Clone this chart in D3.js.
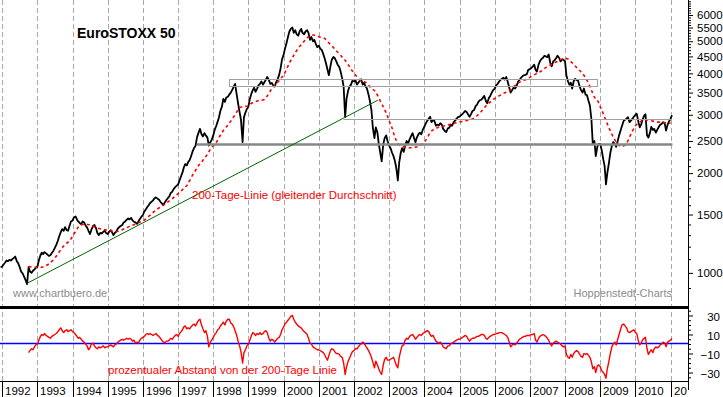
<!DOCTYPE html>
<html>
<head>
<meta charset="utf-8">
<script src="https://cdn.jsdelivr.net/npm/d3@7"></script>
<style>
  body { margin: 0; background: #fff; }
  svg { display: block; font-family: "Liberation Sans", Arial, sans-serif; }
</style>
</head>
<body>
<div id="chart"></div>
<script>
// EuroSTOXX 50, half-monthly closes (1st and 15th), starting 15 Dec 1991
const price = [
  1040,
  1045, 1060, 1075, 1090, 1085, 1095, 1090, 1100, 1110, 1120, 1085, 1070, 1040, 1010, 995, 975, 950, 925, 1040, 1010, 1000, 1015, 1025, 1035,
  1045, 1090, 1130, 1150, 1140, 1155, 1145, 1135, 1125, 1130, 1150, 1165, 1190, 1215, 1250, 1290, 1330, 1355, 1340, 1375, 1345, 1340, 1390, 1430,
  1440, 1470, 1480, 1450, 1430, 1415, 1400, 1430, 1420, 1390, 1370, 1340, 1310, 1350, 1385, 1395, 1365, 1320, 1300, 1320, 1315, 1330, 1340, 1320,
  1310, 1330, 1345, 1325, 1300, 1320, 1335, 1360, 1375, 1385, 1395, 1420, 1430, 1445, 1460, 1450, 1465, 1440, 1425, 1420, 1405, 1430, 1455, 1475,
  1495, 1530, 1555, 1580, 1600, 1625, 1640, 1655, 1680, 1690, 1675, 1665, 1640, 1620, 1605, 1630, 1660, 1680, 1700, 1740, 1760, 1790, 1815, 1830,
  1850, 1900, 1960, 2010, 2080, 2130, 2110, 2160, 2190, 2250, 2330, 2380, 2420, 2560, 2650, 2720, 2620, 2580, 2640, 2600, 2560, 2420, 2480, 2520,
  2600, 2700, 2780, 2860, 2950, 3080, 3180, 3350, 3280, 3380, 3400, 3450, 3500, 3560, 3650, 3720, 3450, 3250, 3050, 2900, 2480, 2950, 3050, 3120,
  3180, 3350, 3480, 3560, 3620, 3520, 3600, 3680, 3720, 3780, 3700, 3760, 3830, 3900, 3820, 3720, 3740, 3680, 3650, 3760, 3850, 3950, 4150, 4400,
  4550, 4750, 4950, 5150, 5350, 5450, 5500, 5300, 5400, 5250, 5200, 5350, 5450, 5300, 5250, 5350, 5400, 5300, 5050, 5150, 5000, 5050, 4900, 4800,
  4850, 4750, 4700, 4580, 4450, 4300, 4100, 3950, 4200, 4400, 4480, 4450, 4350, 4250, 4180, 4050, 3850, 3650, 2950, 3350, 3550, 3650, 3700, 3800,
  3780, 3820, 3700, 3750, 3800, 3840, 3700, 3750, 3650, 3600, 3450, 3300, 3100, 2750, 2550, 2750, 2650, 2450, 2300, 2170, 2450, 2550, 2600, 2500,
  2420, 2380, 2300, 2250, 2180, 2080, 1900, 2150, 2300, 2380, 2320, 2420, 2500, 2450, 2530, 2580, 2640, 2560, 2480, 2560, 2620, 2650, 2620, 2700,
  2760, 2820, 2880, 2920, 2960, 2850, 2900, 2870, 2780, 2800, 2790, 2830, 2800, 2720, 2680, 2660, 2730, 2740, 2800, 2780, 2850, 2880, 2920, 2950,
  2960, 2990, 3020, 3050, 3080, 3060, 3000, 2960, 3020, 3080, 3100, 3180, 3220, 3280, 3320, 3330, 3380, 3420, 3300, 3250, 3370, 3420, 3500, 3560,
  3600, 3680, 3720, 3780, 3820, 3850, 3880, 3830, 3900, 3780, 3620, 3500, 3560, 3620, 3600, 3660, 3780, 3820, 3880, 3920, 3950, 3960, 3980, 4100,
  4120, 4150, 4200, 4250, 4100, 4050, 4250, 4350, 4420, 4450, 4520, 4500, 4480, 4560, 4300, 4200, 4350, 4380, 4450, 4520, 4450, 4350, 4400, 4400,
  4350, 3950, 3780, 3700, 3750, 3600, 3800, 3850, 3820, 3800, 3650, 3560, 3500, 3600, 3450, 3440, 3300, 3200, 2900, 2450, 2500, 2250, 2400, 2450,
  2450, 2350, 2200, 2100, 1850, 2000, 2150, 2300, 2420, 2480, 2450, 2400, 2500, 2600, 2700, 2780, 2880, 2900, 2920, 2950, 2850, 2880, 2920, 2960,
  3000, 3020, 2850, 2750, 2800, 2900, 2980, 3010, 2600, 2560, 2650, 2760, 2700, 2720, 2650, 2700, 2760, 2800, 2820, 2850, 2820, 2690, 2800, 2860,
  2920, 2990
];

// 200-Tage-Linie, monthly (1st), starting Oct 1992
const ma200 = [
  1045, 1042, 1040,
  1040, 1040, 1042, 1052, 1065, 1085, 1110, 1140, 1175, 1205, 1230, 1250,
  1290, 1335, 1375, 1398, 1400, 1400, 1396, 1385, 1370, 1362, 1355, 1350,
  1345, 1340, 1334, 1332, 1338, 1350, 1362, 1375, 1388, 1398, 1408, 1422,
  1435, 1455, 1480, 1505, 1535, 1560, 1580, 1600, 1625, 1650, 1675, 1705,
  1735, 1765, 1800, 1835, 1900, 1975, 2040, 2110, 2160, 2220, 2280, 2360,
  2420, 2475, 2560, 2650, 2730, 2790, 2870, 2960, 3060, 3150, 3175, 3180,
  3190, 3250, 3280, 3300, 3320, 3325, 3380, 3480, 3600, 3680, 3760, 3860,
  3950, 4120, 4300, 4460, 4620, 4760, 4880, 5000, 5120, 5190, 5220, 5210,
  5160, 5130, 5100, 5000, 4880, 4790, 4680, 4580, 4470, 4380, 4250, 4120,
  4010, 3900, 3820, 3790, 3760, 3680, 3600, 3550, 3440, 3300, 3170, 3040,
  2880, 2730, 2570, 2460, 2420, 2400, 2390, 2385, 2385, 2395, 2410, 2440,
  2480, 2560, 2650, 2700, 2730, 2755, 2765, 2780, 2795, 2810, 2825, 2840,
  2855, 2865, 2880, 2890, 2905, 2930, 2980, 3040, 3110, 3190, 3250, 3310,
  3360, 3400, 3440, 3480, 3510, 3550, 3600, 3680, 3740, 3780, 3810, 3850,
  3890, 3940, 3980, 4020, 4070, 4140, 4190, 4240, 4290, 4330, 4380, 4420,
  4440, 4420, 4340, 4260, 4160, 4080, 4000, 3880, 3730, 3560, 3390, 3320,
  3170, 3020, 2880, 2740, 2620, 2520, 2450, 2410, 2420, 2460, 2570, 2680,
  2780, 2830, 2870, 2890, 2895, 2885, 2870, 2860, 2850, 2845, 2840, 2835,
  2830
];

// prozentualer Abstand von der 200-Tage-Linie, half-monthly, starting 1 Oct 1992
const distance = [
  -9, -7, -5, -6, -3, -1,
  0, 4, 8, 10, 9, 11, 9, 8, 7, 6, 8, 9, 10, 11, 13, 15, 17, 14, 12, 14, 15, 13, 14, 15,
  13, 12, 10, 8, 6, 7, 5, 3, 2, 0, -2, -6, -4, 0, 1, -2, -4, -5, -3, -4, -3, -2, -4, -3,
  -3, -2, -1, -2, -3, -1, 0, 2, 3, 4, 5, 4, 5, 6, 5, 6, 5, 3, 4, 1, 2, 1, 4, 6,
  7, 8, 10, 11, 10, 11, 10, 9, 10, 11, 9, 8, 6, 4, 2, 1, 3, 3, 4, 6, 5, 7, 9, 10,
  8, 11, 13, 15, 18, 19, 16, 17, 16, 18, 20, 21, 19, 22, 25, 26, 20, 16, 12, 14, 8, -3, 2, 4,
  7, 10, 12, 15, 16, 19, 21, 23, 20, 24, 26, 26, 22, 21, 18, 14, 9, 3, -2, -8, -20, -9, -6, -2,
  0, 4, 9, 12, 11, 9, 11, 10, 12, 10, 11, 13, 14, 12, 6, 3, 5, 4, 2, 4, 6, 7, 10, 15,
  18, 21, 23, 25, 27, 29, 30, 26, 23, 21, 19, 18, 17, 15, 13, 12, 10, 6, 1, 0, -3, -4, -5, -6,
  -6, -7, -8, -9, -11, -14, -17, -12, -7, -5, -6, -8, -10, -10, -11, -13, -14, -20, -32, -24, -18, -15, -11, -8,
  -7, -5, -5, -3, -1, 0, 2, 1, -2, -4, -7, -10, -14, -19, -25, -18, -22, -26, -30, -32, -22, -16, -14, -17,
  -17, -16, -15, -14, -18, -22, -25, -14, -7, -2, -1, 4, 6, 5, 8, 9, 10, 8, 5, 7, 9, 10, 9, 11,
  12, 13, 14, 13, 10, 8, 9, 6, 3, 2, 1, 2, 0, -3, -4, -5, -2, -2, 0, 1, 2, 3, 4, 5,
  5, 6, 7, 8, 9, 8, 5, 3, 5, 6, 6, 7, 8, 8, 9, 10, 10, 9, 6, 5, 7, 8, 9, 10,
  10, 11, 11, 12, 12, 12, 11, 10, 9, 7, 2, -3, -1, 0, -1, 1, 3, 5, 6, 7, 8, 8, 9, 9,
  9, 10, 10, 11, 4, 2, 6, 8, 9, 10, 9, 8, 6, 4, 0, -2, 1, 2, 3, 2, 1, 0, -2, -3,
  -2, -11, -14, -15, -11, -14, -10, -8, -7, -8, -11, -13, -14, -10, -11, -10, -12, -14, -19, -26, -24, -30, -23, -22,
  -24, -28, -30, -32, -36, -26, -18, -10, -3, 0, 2, -1, 5, 10, 16, 20, 21, 19, 17, 13, 12, 13, 14, 15,
  12, 11, 3, -1, 1, 4, 6, 7, -5, -11, -8, -6, -9, -5, -3, -4, -3, -1, 0, 2, 1, -3, 2, 3,
  4, 6
];

const years = d3.range(1992, 2012);
const priceTicks = [1000, 1500, 2000, 2500, 3000, 3500, 4000, 4500, 5000, 5500, 6000];
const priceMinor = d3.range(900, 6700, 100);
const distTicks = [30, 10, -10, -30];
const distMinor = d3.range(-35, 40, 5);

// drawn-in lines
const trend = [{ date: '1992-09-15', v: 930 }, { date: '2002-09-05', v: 3320 }];
const support = { from: '1997-07-15', to: '2011-01-20', v: 2440 };
const level = { from: '2001-09-15', to: '2011-01-15', v: 2910 };
const band = { from: '1998-06-18', to: '2008-12-05', lo: 3670, hi: 3850 };

const W = 723, H = 397;
const axisX = 688;

const halfMonth = k => new Date(Date.UTC(1992, Math.floor(k / 2), ((k % 2) + 2) % 2 ? 15 : 1));
const priceData = price.map((v, i) => ({ date: halfMonth(i - 1), v }));
const distData = distance.map((v, i) => ({ date: halfMonth(i + 18), v }));
const maData = ma200.map((v, i) => ({ date: new Date(Date.UTC(1992, 9 + i, 1)), v }));

const x = d3.scaleUtc()
  .domain([Date.UTC(1992, 0, 1), Date.UTC(2011, 0, 1)])
  .range([2.2, 670.6]);
const y = d3.scaleLog().domain([800, 6660]).range([305, 0]);
const yd = d3.scaleLinear().domain([-38.9, 36.8]).range([381, 309]);
const d = s => new Date(s + 'T00:00:00Z');
const crisp = v => Math.round(v) + 0.5;

const svg = d3.select('#chart').append('svg')
  .attr('width', W).attr('height', H);

const defs = svg.append('defs');
defs.append('clipPath').attr('id', 'clipMain')
  .append('rect').attr('x', 0).attr('y', 0).attr('width', axisX).attr('height', 306);
defs.append('clipPath').attr('id', 'clipLow')
  .append('rect').attr('x', 0).attr('y', 309).attr('width', axisX).attr('height', 72);
defs.append('clipPath').attr('id', 'clipYears')
  .append('rect').attr('x', 0).attr('y', 381).attr('width', axisX - 1).attr('height', 16);

// year grid (dashed)
svg.append('g').selectAll('line')
  .data(years)
  .enter().append('line')
  .attr('x1', yr => crisp(x(Date.UTC(yr, 0, 1))))
  .attr('x2', yr => crisp(x(Date.UTC(yr, 0, 1))))
  .attr('y1', 0).attr('y2', 381)
  .attr('stroke', '#a8a8a8')
  .attr('stroke-dasharray', '5,3');

// ---- main panel
const main = svg.append('g').attr('clip-path', 'url(#clipMain)');

main.append('path')
  .datum(priceData)
  .attr('d', d3.line().x(p => x(p.date)).y(p => y(p.v)))
  .attr('fill', 'none')
  .attr('stroke', '#000')
  .attr('stroke-width', 1.8)
  .attr('stroke-linejoin', 'round');

main.append('path')
  .datum(maData)
  .attr('d', d3.line().curve(d3.curveMonotoneX).x(p => x(p.date)).y(p => y(p.v)))
  .attr('fill', 'none')
  .attr('stroke', '#ff0000')
  .attr('stroke-width', 1.6)
  .attr('stroke-dasharray', '3,3');

// resistance band
main.append('rect')
  .attr('x', crisp(x(d(band.from))))
  .attr('y', crisp(y(band.hi)))
  .attr('width', Math.round(x(d(band.to)) - x(d(band.from))))
  .attr('height', Math.round(y(band.lo) - y(band.hi)))
  .attr('fill', 'none')
  .attr('stroke', '#a0a0a0')
  .attr('stroke-width', 1);

main.append('line')
  .attr('x1', x(d(level.from))).attr('x2', x(d(level.to)))
  .attr('y1', crisp(y(level.v))).attr('y2', crisp(y(level.v)))
  .attr('stroke', '#a0a0a0').attr('stroke-width', 1);

main.append('line')
  .attr('x1', x(d(support.from))).attr('x2', x(d(support.to)))
  .attr('y1', y(support.v)).attr('y2', y(support.v))
  .attr('stroke', '#838983').attr('stroke-width', 2.5);

main.append('line')
  .attr('x1', x(d(trend[0].date))).attr('y1', y(trend[0].v))
  .attr('x2', x(d(trend[1].date))).attr('y2', y(trend[1].v))
  .attr('stroke', '#006400').attr('stroke-width', 1);

// ---- lower panel
const low = svg.append('g').attr('clip-path', 'url(#clipLow)');

low.append('line')
  .attr('x1', 0).attr('x2', axisX)
  .attr('y1', Math.floor(yd(0)) - 0.5).attr('y2', Math.floor(yd(0)) - 0.5)
  .attr('stroke', '#0000ff').attr('stroke-width', 1.3);

low.append('path')
  .datum(distData)
  .attr('d', d3.line().x(p => x(p.date)).y(p => yd(p.v)))
  .attr('fill', 'none')
  .attr('stroke', '#ff0000')
  .attr('stroke-width', 1.4)
  .attr('stroke-linejoin', 'round');

// panel separators
svg.append('line')
  .attr('x1', 0).attr('x2', axisX)
  .attr('y1', 307.5).attr('y2', 307.5)
  .attr('stroke', '#000').attr('stroke-width', 3);
svg.append('line')
  .attr('x1', 0).attr('x2', axisX)
  .attr('y1', 381.5).attr('y2', 381.5)
  .attr('stroke', '#000').attr('stroke-width', 1);

// ---- right axes
const rightAxis = svg.append('g').attr('transform', `translate(${axisX},0)`);

rightAxis.append('g')
  .call(d3.axisRight(y).tickValues(priceMinor.filter(v => !priceTicks.includes(v)))
    .tickSize(3).tickSizeOuter(0).tickFormat(''))
  .call(g => g.select('.domain').remove());
rightAxis.append('g')
  .call(d3.axisRight(y).tickValues(priceTicks).tickSize(5).tickPadding(4)
    .tickSizeOuter(0).tickFormat(d3.format('d')))
  .call(g => g.select('.domain').remove())
  .call(g => g.selectAll('text').attr('font-size', 11.5).attr('fill', '#000')
    .attr('font-family', '"Liberation Sans", Arial, sans-serif'));

rightAxis.append('g')
  .call(d3.axisRight(yd).tickValues(distMinor.filter(v => !distTicks.includes(v)))
    .tickSize(3).tickSizeOuter(0).tickFormat(''))
  .call(g => g.select('.domain').remove());
rightAxis.append('g')
  .call(d3.axisRight(yd).tickValues(distTicks).tickSize(5).tickSizeOuter(0))
  .call(g => g.select('.domain').remove())
  .call(g => g.selectAll('text').attr('x', 32).attr('dy', '0.45em')
    .attr('text-anchor', 'end').attr('font-size', 11.5).attr('fill', '#000')
    .attr('font-family', '"Liberation Sans", Arial, sans-serif'));

rightAxis.append('line')
  .attr('x1', 0.5).attr('x2', 0.5)
  .attr('y1', 0).attr('y2', 390)
  .attr('stroke', '#000');

// ---- year labels
const yearG = svg.append('g').attr('clip-path', 'url(#clipYears)');
yearG.selectAll('line')
  .data(years)
  .enter().append('line')
  .attr('x1', yr => crisp(x(Date.UTC(yr, 0, 1))))
  .attr('x2', yr => crisp(x(Date.UTC(yr, 0, 1))))
  .attr('y1', 381).attr('y2', 397)
  .attr('stroke', '#000');
yearG.selectAll('text')
  .data(years)
  .enter().append('text')
  .attr('x', yr => Math.round(x(Date.UTC(yr, 0, 1))) + 3)
  .attr('y', 395)
  .attr('font-size', 11.5)
  .text(yr => yr);

// ---- texts
svg.append('text')
  .attr('x', 77).attr('y', 38)
  .attr('font-size', 14).attr('font-weight', 'bold')
  .text('EuroSTOXX 50');

svg.append('text')
  .attr('x', 192).attr('y', 199)
  .attr('font-size', 11.5).attr('fill', '#ff0000')
  .text('200-Tage-Linie (gleitender Durchschnitt)');

svg.append('text')
  .attr('x', 13).attr('y', 297)
  .attr('font-size', 11).attr('fill', '#8c8c8c')
  .text('www.chartbuero.de');

svg.append('text')
  .attr('x', 672).attr('y', 297)
  .attr('text-anchor', 'end')
  .attr('font-size', 11).attr('fill', '#8c8c8c')
  .text('Hoppenstedt-Charts');

svg.append('text')
  .attr('x', 108).attr('y', 374)
  .attr('font-size', 11.5).attr('fill', '#ff0000')
  .text('prozentualer Abstand von der 200-Tage Linie');
</script>
</body>
</html>
